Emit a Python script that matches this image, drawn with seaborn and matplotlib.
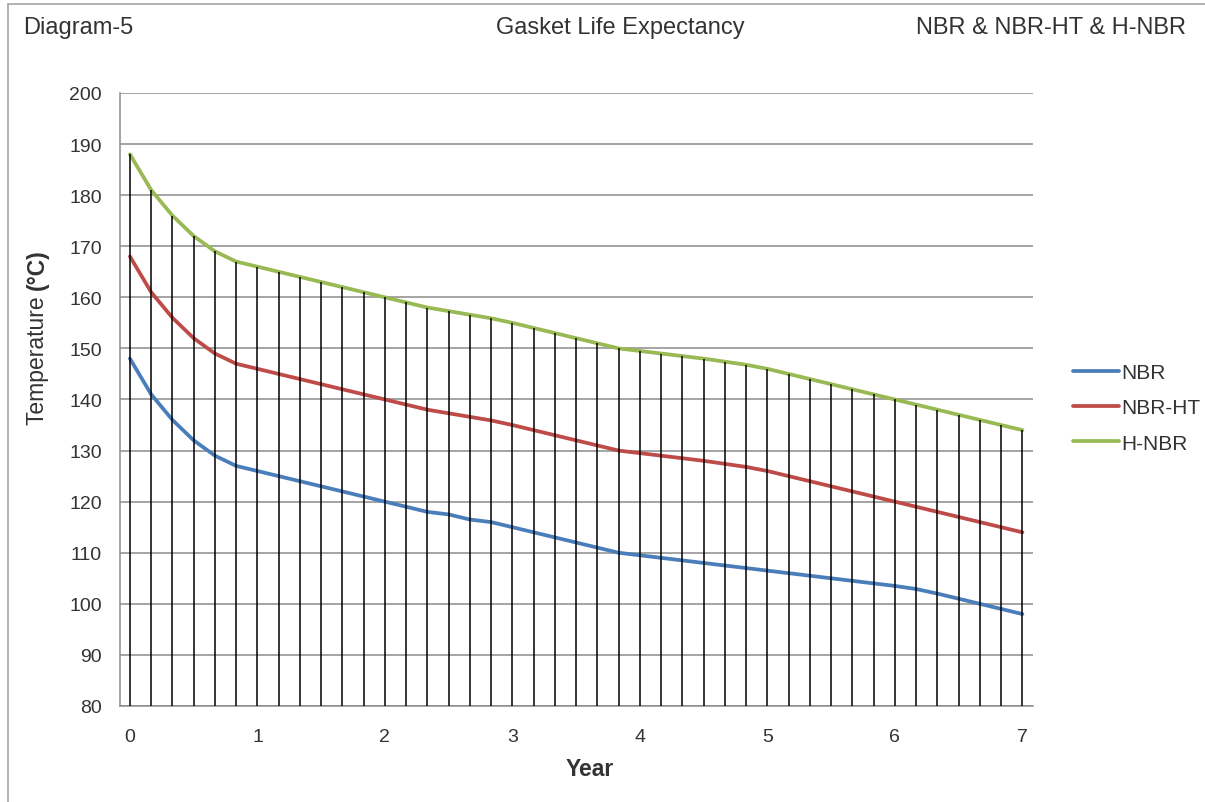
"""
Gasket life expectancy chart (Diagram-5) - NBR / NBR-HT / H-NBR.
"""

import numpy as np
import pandas as pd
import matplotlib.pyplot as plt
from matplotlib.lines import Line2D
import seaborn as sns

# =====================================================================
# DATA
# =====================================================================
MONTHS = [0, 2, 4, 6, 8, 10, 12, 14, 16, 18, 20, 22, 24, 26, 28, 30, 32, 34,
          36, 38, 40, 42, 44, 46, 48, 50, 52, 54, 56, 58, 60, 62, 64, 66, 68,
          70, 72, 74, 76, 78, 80, 82, 84]

NBR = [148, 141, 136, 132, 129, 127, 126, 125, 124, 123, 122, 121, 120, 119,
       118, 117.5, 116.5, 116, 115, 114, 113, 112, 111, 110, 109.5, 109, 108.5,
       108, 107.5, 107, 106.5, 106, 105.5, 105, 104.5, 104, 103.5, 102.9, 102,
       101, 100, 99, 98]

NBR_HT = [168, 161, 156, 152, 149, 147, 146, 145, 144, 143, 142, 141, 140, 139,
          138, 137.3, 136.6, 135.9, 135, 134, 133, 132, 131, 130, 129.5, 129,
          128.5, 128, 127.4, 126.8, 126, 125, 124, 123, 122, 121, 120, 119, 118,
          117, 116, 115, 114]

H_NBR = [188, 181, 176, 172, 169, 167, 166, 165, 164, 163, 162, 161, 160, 159,
         158, 157.3, 156.6, 155.9, 155, 154, 153, 152, 151, 150, 149.5, 149,
         148.5, 148, 147.4, 146.8, 146, 145, 144, 143, 142, 141, 140, 139, 138,
         137, 136, 135, 134]

SERIES = ["NBR", "NBR-HT", "H-NBR"]
X_TICKS = [0, 1, 2, 3, 4, 5, 6, 7]
Y_TICKS = [80, 90, 100, 110, 120, 130, 140, 150, 160, 170, 180, 190, 200]

# =====================================================================
# STYLE
# =====================================================================
COLORS = {"NBR": "#4a7ebb", "NBR-HT": "#be4b48", "H-NBR": "#98b954"}
TEXT = "#333333"
GRID = "#8c8c8c"

sns.set_style("white")
plt.rcParams['font.family'] = ['Liberation Sans', 'DejaVu Sans']
plt.rcParams['text.color'] = TEXT
plt.rcParams['xtick.color'] = TEXT
plt.rcParams['ytick.color'] = TEXT


def plot_gasket_life(save_name="out.png"):
    years = np.array(MONTHS) / 12
    df = pd.DataFrame({"Year": np.tile(years, 3),
                       "Temp": NBR + NBR_HT + H_NBR,
                       "Material": np.repeat(SERIES, len(years))})

    W, H = 1205, 803
    fig = plt.figure(figsize=(W / 100, H / 100), dpi=100)
    ax = fig.add_axes([120 / W, 1 - 707 / H, (1033 - 120) / W, (707 - 94) / H])

    sns.lineplot(data=df, x="Year", y="Temp", hue="Material", hue_order=SERIES,
                 palette=COLORS, linewidth=2.7, ax=ax, legend=True, zorder=2)

    # drop lines from the highest series down to the axis
    ax.vlines(years, 80, H_NBR, color="black", linewidth=1.1, zorder=3)

    ax.set_xlim(-0.078, 7.083)
    ax.set_ylim(80, 200)
    ax.set_xticks(X_TICKS)
    ax.set_yticks(Y_TICKS)
    ax.tick_params(axis='x', length=0, pad=16, labelsize=14)
    ax.tick_params(axis='y', length=5, width=1, color=GRID, pad=8, labelsize=14)
    ax.yaxis.grid(True, color=GRID, linewidth=1.1)
    ax.set_axisbelow(True)
    ax.set_xlabel("")
    ax.set_ylabel("")
    for side in ("top", "right"):
        ax.spines[side].set_visible(False)
    for side in ("left", "bottom"):
        ax.spines[side].set_color(GRID)
        ax.spines[side].set_linewidth(1.1)

    ax.legend(loc="center left", bbox_to_anchor=(1073 / W, 1 - 409 / H),
              bbox_transform=fig.transFigure, frameon=False, fontsize=15,
              handlelength=2.2, handletextpad=0.12, labelspacing=0.78,
              borderpad=0, borderaxespad=0)

    # axis titles
    fig.text(590 / W, 1 - 770 / H, "Year", ha="center", va="center",
             fontsize=16.5, fontweight="bold")
    t = fig.text(37.5 / W, 1 - 425 / H, "Temperature ", rotation=90,
                 ha="center", va="bottom", fontsize=16.5)
    ax.annotate("(°C)", xy=(0.5, 1), xycoords=t, rotation=90, ha="center",
                va="bottom", fontsize=16.5, fontweight="bold")

    # header band
    fig.text(23 / W, 1 - 28 / H, "Diagram-5", ha="left", va="center", fontsize=17)
    fig.text(620 / W, 1 - 28 / H, "Gasket Life Expectancy", ha="center",
             va="center", fontsize=17)
    fig.text(1186 / W, 1 - 28 / H, "NBR & NBR-HT & H-NBR", ha="right",
             va="center", fontsize=17)

    # outer frame
    fig.add_artist(Line2D([8 / W, 1], [1 - 5 / H, 1 - 5 / H], color="#a6a6a6",
                          linewidth=1.2, transform=fig.transFigure))
    fig.add_artist(Line2D([8 / W, 8 / W], [0, 1 - 5 / H], color="#a6a6a6",
                          linewidth=1.2, transform=fig.transFigure))

    fig.savefig(save_name, dpi=100)
    plt.close(fig)


if __name__ == "__main__":
    plot_gasket_life()
